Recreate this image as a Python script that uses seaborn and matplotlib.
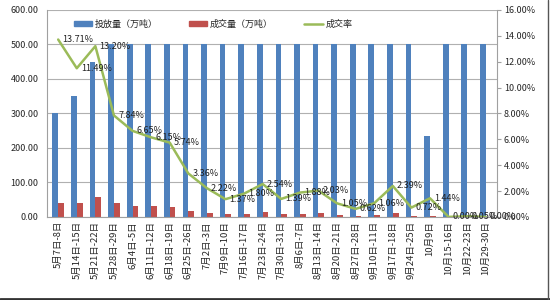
import numpy as np
import pandas as pd
import matplotlib
matplotlib.use('Agg')
import matplotlib.pyplot as plt
from matplotlib.patches import Patch
from matplotlib.lines import Line2D
from matplotlib.ticker import FuncFormatter
import seaborn as sns

# 数据
weeks = ['5月7日-8日', '5月14日-15日', '5月21日-22日', '5月28日-29日', '6月4日-5日',
         '6月11日-12日', '6月18日-19日', '6月25日-26日', '7月2日-3日', '7月9日-10日',
         '7月16日-17日', '7月23日-24日', '7月30日-31日', '8月6日-7日', '8月13日-14日',
         '8月20日-21日', '8月27日-28日', '9月10日-11日', '9月17日-18日', '9月24日-25日',
         '10月9日', '10月15-16日', '10月22-23日', '10月29-30日']
supply = [300, 350, 450, 500, 500, 500, 500, 500, 500, 500, 500, 500,
          500, 500, 500, 500, 500, 500, 500, 500, 235, 500, 500, 500]
deal = [41, 40, 59, 39, 33, 31, 29, 17, 11, 7, 9, 13,
        7, 9, 10, 5, 3, 5, 12, 4, 3, 0, 0.25, 0]
rate = [13.71, 11.49, 13.20, 7.84, 6.65, 6.15, 5.74, 3.36, 2.22, 1.37, 1.80, 2.54,
        1.39, 1.88, 2.03, 1.05, 0.62, 1.06, 2.39, 0.72, 1.44, 0.00, 0.05, 0.00]

blue = '#4F81BD'
red = '#C0504D'
green = '#9BBB59'

sns.set_style('white')
plt.rcParams['font.family'] = ['Noto Sans CJK SC', 'DejaVu Sans']

df = pd.DataFrame({
    'week': weeks * 2,
    'series': ['投放量（万吨）'] * len(weeks) + ['成交量（万吨）'] * len(weeks),
    'value': supply + deal,
})

fig = plt.figure(figsize=(5.5, 3), dpi=100)
ax = fig.add_axes([0.0855, 0.277, 0.818, 0.69])

sns.barplot(data=df, x='week', y='value', hue='series', palette=[blue, red],
            width=0.62, saturation=1, ax=ax, legend=False, linewidth=0)

ax.set_ylim(0, 600)
ax.set_yticks(range(0, 601, 100))
ax.yaxis.set_major_formatter(FuncFormatter(lambda v, p: f'{v:.2f}'))
ax.set_xlim(-0.6, len(weeks) - 0.4)
ax.grid(axis='y', color='#b0b0b0', linewidth=0.8)
ax.set_axisbelow(True)
ax.set_xlabel('')
ax.set_ylabel('')
ax.tick_params(axis='y', length=0, labelsize=6.5, pad=6)
ax.tick_params(axis='x', length=0, labelsize=6.8, rotation=90, pad=3)
for s in ['left', 'bottom']:
    ax.spines[s].set_color('#a0a0a0')
    ax.spines[s].set_linewidth(0.8)
for s in ['top', 'right']:
    ax.spines[s].set_visible(False)

ax2 = ax.twinx()
pos = np.arange(len(weeks))
sns.lineplot(x=pos, y=np.array(rate) / 100, ax=ax2, color=green, linewidth=1.8)
ax2.set_ylim(0, 0.16)
ax2.set_yticks(np.arange(0, 0.161, 0.02))
ax2.yaxis.set_major_formatter(FuncFormatter(lambda v, p: f'{v * 100:.2f}%'))
ax2.tick_params(axis='y', length=3, color='#a0a0a0', labelsize=6.5, pad=2)
ax2.set_ylabel('')
for s in ['top', 'left', 'bottom']:
    ax2.spines[s].set_visible(False)
ax2.spines['right'].set_color('#a0a0a0')
ax2.spines['right'].set_linewidth(0.8)

for x, r in zip(pos, rate):
    ax2.annotate(f'{r:.2f}%', (x, r / 100), xytext=(3, 0), textcoords='offset points',
                 ha='left', va='center', fontsize=6.5, color='#222222')

handles = [Patch(color=blue), Patch(color=red), Line2D([0], [0], color=green, linewidth=1.8)]
labels = ['投放量（万吨）', '成交量（万吨）', '成交率']
fig.legend(handles, labels, loc='center', bbox_to_anchor=(213 / 550, 1 - 24 / 300), ncol=3,
           frameon=False, fontsize=6.5, handlelength=2.0, handleheight=0.5,
           handletextpad=0.3, columnspacing=3.5)

# 外框
fig.add_artist(Line2D([0, 1], [0.004, 0.004], color='#333333', linewidth=2, transform=fig.transFigure))
fig.add_artist(Line2D([0.997, 0.997], [0, 1], color='#555555', linewidth=1, transform=fig.transFigure))

fig.savefig('out.png', dpi=100)
